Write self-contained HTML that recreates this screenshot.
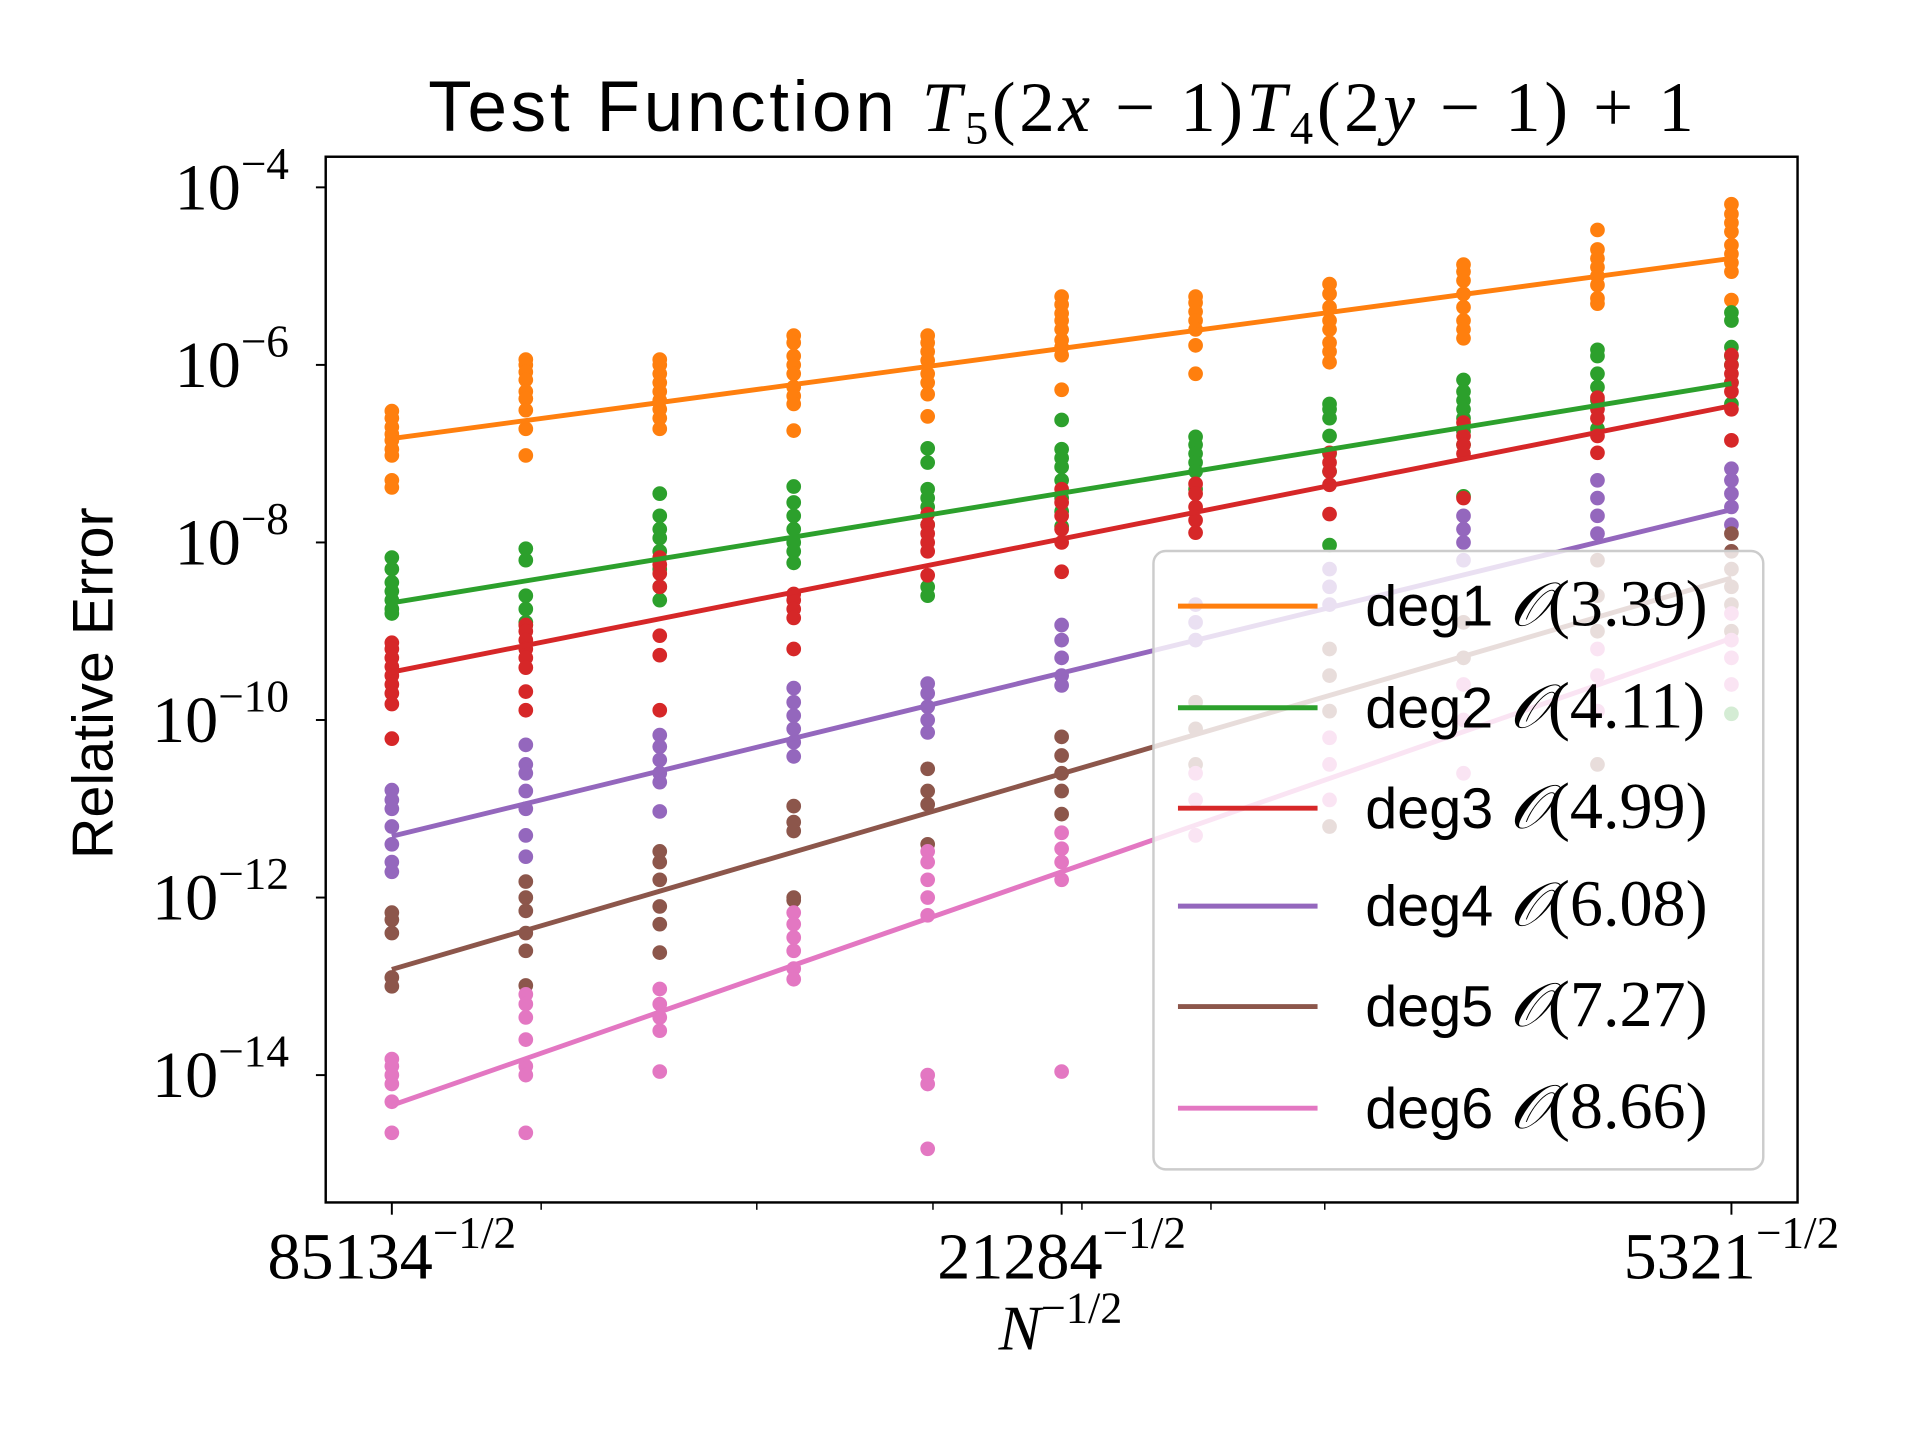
<!DOCTYPE html>
<html><head><meta charset="utf-8"><style>
html,body{margin:0;padding:0;background:#fff;}
svg{display:block;}
.serif{font-family:"Liberation Serif","DejaVu Serif",serif;}
.sans{font-family:"Liberation Sans","DejaVu Sans",sans-serif;}
</style></head><body>
<svg id="chart" xmlns="http://www.w3.org/2000/svg" width="1920" height="1440" viewBox="0 0 1568 1176">
<rect width="1568" height="1176" fill="#fff"/>
<text x="868" y="107" text-anchor="middle" font-size="58" letter-spacing="3" class="sans">Test Function <tspan class="serif" font-style="italic">T</tspan><tspan class="serif" font-size="38" dy="10">5</tspan><tspan class="serif" dy="-10">(2<tspan font-style="italic">x</tspan> − 1)<tspan font-style="italic">T</tspan></tspan><tspan class="serif" font-size="38" dy="10">4</tspan><tspan class="serif" dy="-10">(2<tspan font-style="italic">y</tspan> − 1) + 1</tspan></text>
<g id="plot"></g>
<rect x="266" y="128" width="1202" height="854" fill="none" stroke="#000" stroke-width="2"/>
<g id="axes"></g>
<text transform="translate(92,558) rotate(-90)" text-anchor="middle" font-size="47" class="sans">Relative Error</text>
<text x="866" y="1102" text-anchor="middle" font-size="52" class="serif"><tspan font-style="italic">N</tspan><tspan font-size="36" dy="-22">−1/2</tspan></text>
<g id="legend"></g>
</svg>
<script>
const seriesNames = ["deg1","deg2","deg3","deg4","deg5","deg6"];
const seriesOrders = ["3.39","4.11","4.99","6.08","7.27","8.66"];
const seriesColors = ["#ff7f0e","#2ca02c","#d62728","#9467bd","#8c564b","#e377c2"];
const xTickLabels = ["85134","21284","5321"];
const yTickExps = [-4,-6,-8,-10,-12,-14];
// fit line endpoints (log10 error at first and last column)
const fitStart = [-6.83,-8.68,-9.46,-11.31,-12.81,-14.34];
const fitEnd = [-4.80,-6.21,-6.46,-7.63,-8.40,-9.08];
// scatter log10 errors per column (11 columns)
const deg1Pts = [[-6.52,-6.6,-6.7,-6.78,-6.85,-6.95,-7.02,-7.30,-7.38],[-5.94,-6.0,-6.08,-6.17,-6.30,-6.38,-6.51,-6.72,-7.02],[-5.94,-6.0,-6.1,-6.2,-6.3,-6.4,-6.5,-6.6,-6.72],[-5.67,-5.75,-5.9,-6.0,-6.1,-6.25,-6.35,-6.44,-6.74],[-5.67,-5.75,-5.85,-5.95,-6.1,-6.2,-6.33,-6.58],[-5.23,-5.32,-5.42,-5.5,-5.6,-5.72,-5.8,-5.89,-6.28],[-5.23,-5.3,-5.4,-5.5,-5.6,-5.78,-6.1],[-5.09,-5.2,-5.35,-5.5,-5.6,-5.75,-5.85,-5.97],[-4.87,-4.95,-5.05,-5.2,-5.35,-5.5,-5.6,-5.7],[-4.48,-4.7,-4.8,-4.9,-5.0,-5.1,-5.25,-5.31],[-4.19,-4.3,-4.4,-4.5,-4.65,-4.75,-4.85,-4.95,-5.27]];
const deg2Pts = [[-8.17,-8.3,-8.45,-8.55,-8.65,-8.75,-8.8],[-8.07,-8.2,-8.6,-8.75,-8.9,-8.93],[-7.45,-7.7,-7.85,-7.95,-8.1,-8.3,-8.5,-8.65],[-7.37,-7.55,-7.7,-7.85,-8.0,-8.1,-8.23],[-6.94,-7.1,-7.4,-7.5,-7.6,-7.8,-8.5,-8.6],[-6.62,-6.95,-7.05,-7.15,-7.3,-7.5,-7.65,-7.82],[-6.81,-6.9,-7.0,-7.1,-7.2,-7.4],[-6.44,-6.5,-6.6,-6.8,-7.0,-7.2,-8.03],[-6.17,-6.3,-6.4,-6.5,-6.6,-6.75,-6.9,-7.48],[-5.83,-5.9,-6.1,-6.25,-6.4,-6.72],[-5.41,-5.5,-5.8,-5.9,-6.0,-6.2,-6.44,-9.93]];
const deg3Pts = [[-9.13,-9.2,-9.3,-9.4,-9.5,-9.6,-9.7,-9.82,-10.21],[-8.93,-9.0,-9.1,-9.2,-9.3,-9.41,-9.68,-9.89],[-8.17,-8.25,-8.35,-8.5,-9.05,-9.27,-9.89],[-8.58,-8.65,-8.75,-8.85,-9.2],[-7.68,-7.8,-7.9,-8.0,-8.1,-8.37],[-7.4,-7.55,-7.7,-7.85,-8.0,-8.33],[-7.34,-7.45,-7.6,-7.75,-7.89],[-6.99,-7.1,-7.2,-7.35,-7.68],[-6.65,-6.8,-6.9,-7.0,-7.5],[-6.37,-6.5,-6.6,-6.8,-6.99],[-5.89,-6.0,-6.1,-6.2,-6.3,-6.5,-6.85]];
const deg4Pts = [[-10.79,-10.9,-11.0,-11.2,-11.4,-11.6,-11.71],[-10.28,-10.5,-10.6,-10.8,-11.0,-11.3,-11.54],[-10.17,-10.3,-10.45,-10.6,-10.7,-11.03],[-9.64,-9.8,-9.95,-10.1,-10.25,-10.41],[-9.59,-9.7,-9.85,-10.0,-10.14],[-8.93,-9.1,-9.3,-9.5,-9.61],[-8.7,-8.9,-9.1],[-8.3,-8.5,-8.7],[-7.7,-7.85,-8.0,-8.2],[-7.3,-7.5,-7.7,-7.9],[-7.17,-7.3,-7.45,-7.6,-7.8]];
const deg5Pts = [[-12.17,-12.25,-12.4,-12.9,-13.0],[-11.82,-12.0,-12.15,-12.4,-12.6,-12.99],[-11.48,-11.6,-11.8,-12.1,-12.3,-12.62],[-10.97,-11.15,-11.25,-12.0,-12.03],[-10.55,-10.8,-10.95,-11.4],[-10.19,-10.4,-10.6,-10.8,-11.06],[-9.8,-10.1,-10.5],[-9.2,-9.5,-9.9,-11.2],[-8.9,-9.3],[-8.2,-8.6,-9.0,-10.5],[-7.9,-8.1,-8.3,-8.5,-8.7,-9.0]];
const deg6Pts = [[-13.82,-13.9,-14.0,-14.1,-14.3,-14.65],[-13.09,-13.2,-13.35,-13.6,-13.9,-14.0,-14.65],[-13.03,-13.2,-13.35,-13.5,-13.96],[-12.17,-12.3,-12.45,-12.6,-12.8,-12.92],[-11.48,-11.6,-11.8,-12.0,-12.2,-14.0,-14.1,-14.83],[-11.27,-11.45,-11.6,-11.8,-13.96],[-10.6,-10.9,-11.3],[-10.2,-10.5,-10.9],[-9.6,-10.0,-10.6],[-9.2,-9.5,-9.9],[-8.8,-9.1,-9.3,-9.6]];
const allPts = [deg1Pts,deg2Pts,deg3Pts,deg4Pts,deg5Pts,deg6Pts];

const NS = "http://www.w3.org/2000/svg";
const nCols = 11;
function xCol(i){ return 320 + (1414-320)*i/(nCols-1); }
function yLog(v){ return 153 + (-4 - v)*72.5; }
function mk(tag, attrs, parent){ const e=document.createElementNS(NS,tag); for(const k in attrs) e.setAttribute(k,attrs[k]); parent.appendChild(e); return e; }

const plot=document.getElementById('plot');
allPts.forEach((cols,s)=>{
  cols.forEach((vals,i)=>{
    vals.forEach(v=>{
      const c=mk('ellipse',{cx:xCol(i),cy:yLog(v),rx:6,ry:6,fill:seriesColors[s]},plot);
      
      
    });
  });
});
seriesNames.forEach((n,s)=>{
  const l=mk('line',{x1:xCol(0),y1:yLog(fitStart[s]),x2:xCol(nCols-1),y2:yLog(fitEnd[s]),stroke:seriesColors[s],'stroke-width':4},plot);
  
  
});

const axes=document.getElementById('axes');
yTickExps.forEach(e=>{
  const y=yLog(e);
  const t=mk('line',{x1:258,x2:266,y1:y,y2:y,stroke:'#000','stroke-width':1.6},axes);
  
  
  const tx=mk('text',{x:236,y:y+18,'text-anchor':'end','font-size':54,class:'serif'},axes);
  
  
  tx.innerHTML='10<tspan font-size="37" dy="-25">−'+Math.abs(e)+'</tspan>';
});
const minorVals=[0.004,0.005,0.006,0.007,0.008,0.009];
const x0=Math.pow(85134,-0.5), pxPerDec=(1414-320)/Math.log10(16)*2;
minorVals.forEach(v=>{
  const x=320+pxPerDec*Math.log10(v/x0);
  const t=mk('line',{x1:x,x2:x,y1:982,y2:988,stroke:'#000','stroke-width':1.2},axes);
  
  
});
xTickLabels.forEach((lab,i)=>{
  const x=xCol(i*5);
  const t=mk('line',{x1:x,x2:x,y1:982,y2:992,stroke:'#000','stroke-width':1.6},axes);
  
  
  const tx=mk('text',{x:x,y:1044,'text-anchor':'middle','font-size':54,class:'serif'},axes);
  
  
  tx.innerHTML=lab+'<tspan font-size="37" dy="-25">−1/2</tspan>';
});

const lg=document.getElementById('legend');
const box=mk('rect',{x:942,y:450,width:498,height:505,rx:10,fill:'#fff','fill-opacity':0.8,stroke:'#ccc','stroke-width':2},lg);


const legY=[495,578,660,740,822,905];
seriesNames.forEach((n,s)=>{
  const l=mk('line',{x1:962,x2:1076,y1:legY[s],y2:legY[s],stroke:seriesColors[s],'stroke-width':4},lg);
  
  
  const t=mk('text',{x:1115,y:legY[s]+16,'font-size':47,class:'sans'},lg);
  
  
  t.innerHTML=n+' <tspan class="serif" font-style="italic" font-size="50">𝒪</tspan><tspan class="serif" font-size="54">('+seriesOrders[s]+')</tspan>';
});
</script>
</body></html>
